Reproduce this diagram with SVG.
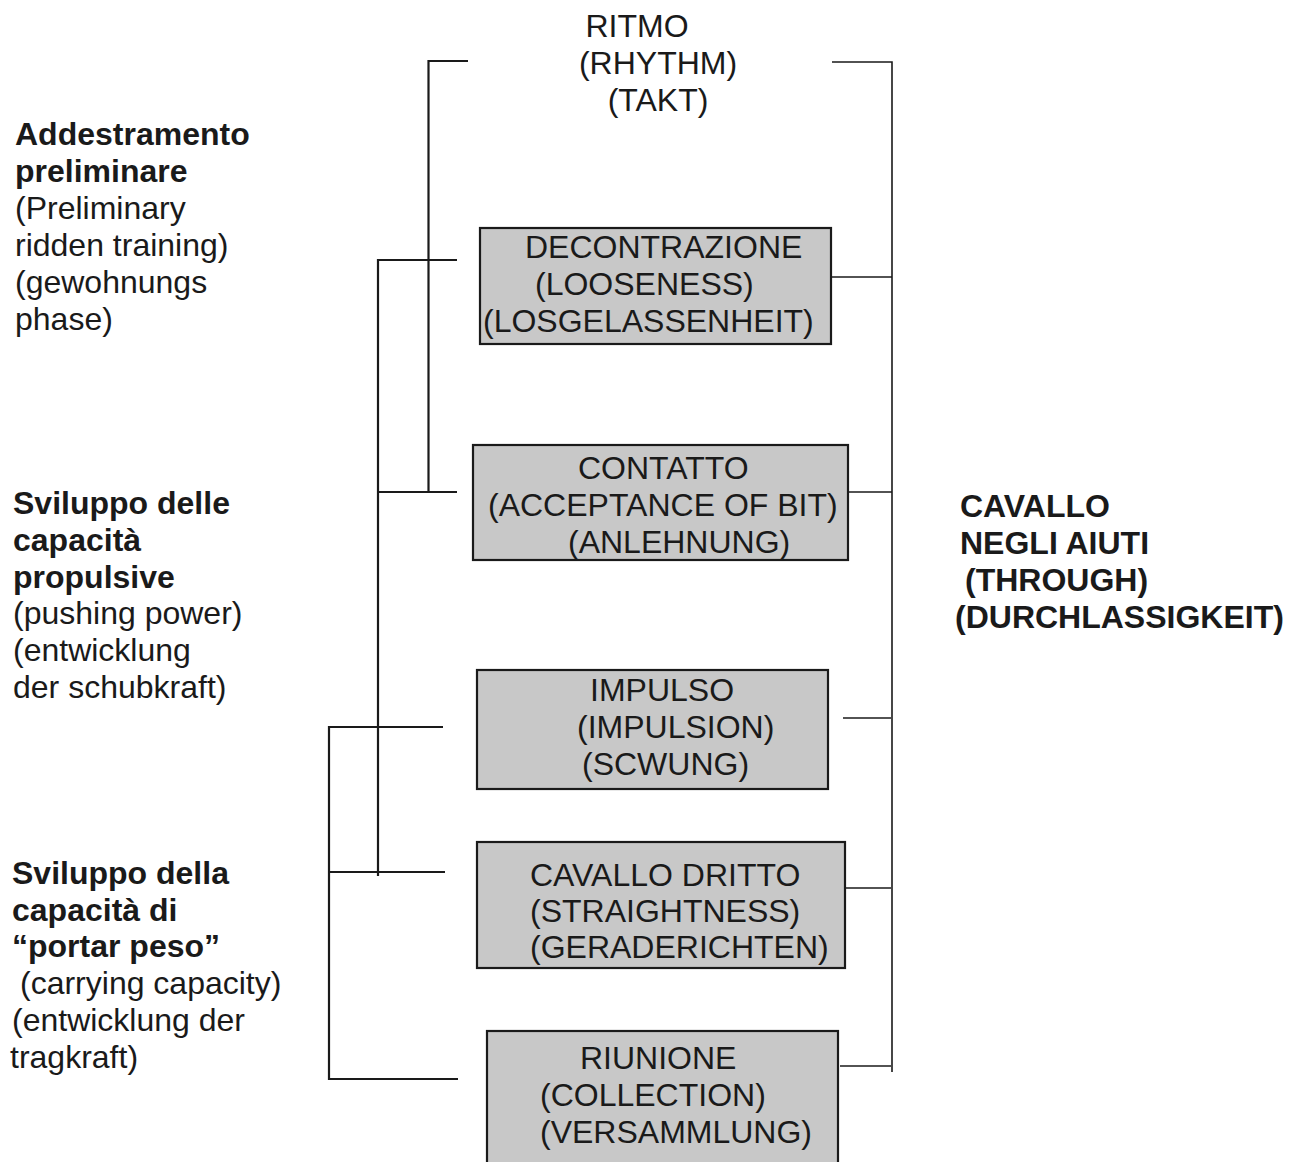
<svg xmlns="http://www.w3.org/2000/svg" width="1295" height="1162" viewBox="0 0 1295 1162">
<style>
text { font-family: "Liberation Sans", Arial, sans-serif; font-size: 32px; fill: #1a1a1a; }
.b { font-weight: bold; }
.box { fill: #c8c8c8; stroke: #1a1a1a; stroke-width: 2.2; }
.ln { stroke: #1a1a1a; stroke-width: 2.2; fill: none; }
.rl { stroke: #1a1a1a; stroke-width: 1.6; fill: none; }
</style>
<rect width="1295" height="1162" fill="#ffffff"/>
<g id="connectors">
  <path class="ln" d="M468,61 H428.5 V492"/>
  <path class="ln" d="M457,260 H378 V876"/>
  <path class="ln" d="M378,492 H457"/>
  <path class="ln" d="M443,727 H329 V1079 H458"/>
  <path class="ln" d="M329,872 H445"/>
  <path class="rl" d="M832,62 H892 V1072"/>
  <path class="rl" d="M831,277 H892"/>
  <path class="rl" d="M848,492 H892"/>
  <path class="rl" d="M843,718 H891"/>
  <path class="rl" d="M845,888 H891"/>
  <path class="rl" d="M840,1066 H891"/>
</g>
<g id="ritmo">
  <text x="637" y="37" text-anchor="middle">RITMO</text>
  <text x="658" y="74" text-anchor="middle">(RHYTHM)</text>
  <text x="658" y="111" text-anchor="middle">(TAKT)</text>
</g>
<g id="addestramento">
  <text class="b" x="15" y="145">Addestramento</text>
  <text class="b" x="15" y="182">preliminare</text>
  <text x="15" y="219">(Preliminary</text>
  <text x="15" y="256">ridden training)</text>
  <text x="15" y="293">(gewohnungs</text>
  <text x="15" y="330">phase)</text>
</g>
<g id="sviluppo-propulsive">
  <text class="b" x="13" y="514">Sviluppo delle</text>
  <text class="b" x="13" y="551">capacità</text>
  <text class="b" x="13" y="588">propulsive</text>
  <text x="13" y="624">(pushing power)</text>
  <text x="13" y="661">(entwicklung</text>
  <text x="13" y="698">der schubkraft)</text>
</g>
<g id="sviluppo-peso">
  <text class="b" x="12" y="884">Sviluppo della</text>
  <text class="b" x="12" y="921">capacità di</text>
  <text class="b" x="12" y="957">“portar peso”</text>
  <text x="20" y="994">(carrying capacity)</text>
  <text x="12" y="1031">(entwicklung der</text>
  <text x="10" y="1068">tragkraft)</text>
</g>
<g id="cavallo-aiuti">
  <text class="b" x="960" y="517">CAVALLO</text>
  <text class="b" x="960" y="554">NEGLI AIUTI</text>
  <text class="b" x="965" y="591">(THROUGH)</text>
  <text class="b" x="955" y="628">(DURCHLASSIGKEIT)</text>
</g>
<g id="decontrazione">
  <rect class="box" x="480" y="228" width="351" height="116"/>
  <text x="525" y="258">DECONTRAZIONE</text>
  <text x="535" y="295">(LOOSENESS)</text>
  <text x="483" y="332">(LOSGELASSENHEIT)</text>
</g>
<g id="contatto">
  <rect class="box" x="473" y="445" width="375" height="115"/>
  <text x="578" y="479">CONTATTO</text>
  <text x="488" y="516">(ACCEPTANCE OF BIT)</text>
  <text x="568" y="553">(ANLEHNUNG)</text>
</g>
<g id="impulso">
  <rect class="box" x="477" y="670" width="351" height="119"/>
  <text x="590" y="701">IMPULSO</text>
  <text x="577" y="738">(IMPULSION)</text>
  <text x="582" y="775">(SCWUNG)</text>
</g>
<g id="cavallo-dritto">
  <rect class="box" x="477" y="842" width="368" height="126"/>
  <text x="530" y="886">CAVALLO DRITTO</text>
  <text x="530" y="922">(STRAIGHTNESS)</text>
  <text x="530" y="958">(GERADERICHTEN)</text>
</g>
<g id="riunione">
  <rect class="box" x="487" y="1031" width="351" height="140"/>
  <text x="580" y="1069">RIUNIONE</text>
  <text x="540" y="1106">(COLLECTION)</text>
  <text x="540" y="1143">(VERSAMMLUNG)</text>
</g>
</svg>
